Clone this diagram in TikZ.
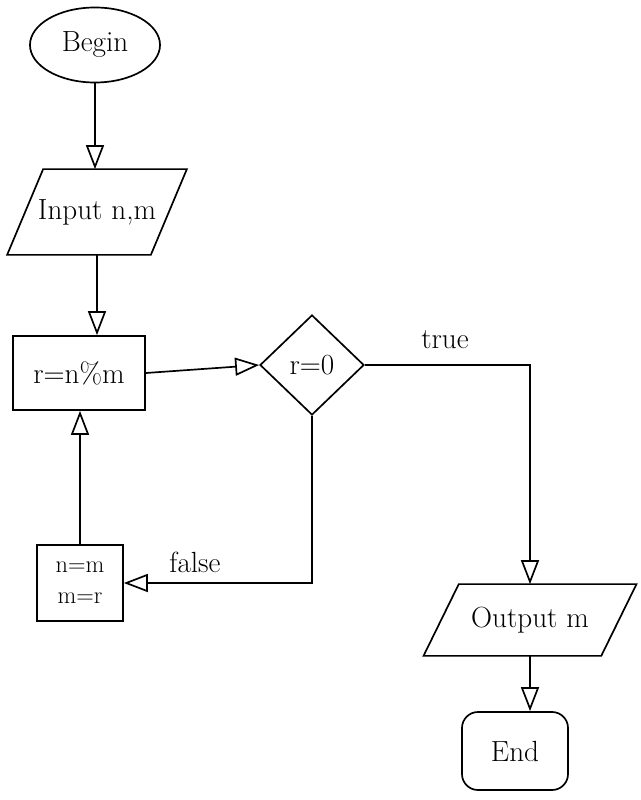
\documentclass[tikz,border=0pt]{standalone}
\usetikzlibrary{shapes.geometric,arrows.meta}
\begin{document}
\begin{tikzpicture}[
  x=0.025cm, y=-0.025cm,
  font=\huge,
  line width=1.2pt,
  terminal/.style={draw, ellipse, inner sep=0pt, minimum width=3.25cm, minimum height=1.875cm},
  io/.style={rectangle, inner sep=0pt},
  process/.style={draw, rectangle, inner sep=0pt},
  decision/.style={draw, diamond, inner sep=0pt, minimum width=2.6cm, minimum height=2.5cm},
  stop/.style={draw, rectangle, rounded corners=0.4cm, inner sep=0pt, minimum width=2.65cm, minimum height=1.95cm},
  flow/.style={-{Triangle[open, length=0.6cm, width=0.45cm]}},
  tag/.style={font=\huge},
]
\useasboundingbox (0,0) rectangle (640,800);

% ---- left column ----
\node[terminal] (begin) at (95,45) {Begin};
\node[io, minimum width=3.55cm, minimum height=2.1cm] (input) at (97,212) {Input n,m};
\draw ([xshift=0.45cm]input.north west) -- ([xshift=0.45cm]input.north east)
  -- ([xshift=-0.45cm]input.south east) -- ([xshift=-0.45cm]input.south west) -- cycle;
\node[process, minimum width=3.3cm, minimum height=1.85cm] (rem) at (79,373) {r=n\%m};
\node[process, font=\LARGE, align=center, minimum width=2.15cm, minimum height=1.9cm] (swap) at (80,583) {n=m\\m=r};

% ---- test ----
\node[decision] (check) at (312,365) {r=0};

% ---- right column ----
\node[io, minimum width=4.4cm, minimum height=1.75cm] (output) at (530,620) {Output m};
\draw ([xshift=0.44cm]output.north west) -- ([xshift=0.44cm]output.north east)
  -- ([xshift=-0.44cm]output.south east) -- ([xshift=-0.44cm]output.south west) -- cycle;
\node[stop] (finish) at (515,751) {End};

% ---- labels ----
\node[tag] (truelbl) at (445,340) {true};
\node[tag] (falselbl) at (195,562) {false};

% ---- connectors ----
\draw[flow] (begin.south) -- (begin.south |- input.north);
\draw[flow] (input.south) -- (input.south |- rem.north);
\draw[flow] (rem.east) -- (check.west);
\draw[flow] (check.east) -| (output.north);
\draw[flow] (check.south) |- (swap.east);
\draw[flow] (swap.north) -- (swap.north |- rem.south);
\draw[flow] (output.south) -- (output.south |- finish.north);
\end{tikzpicture}
\end{document}
